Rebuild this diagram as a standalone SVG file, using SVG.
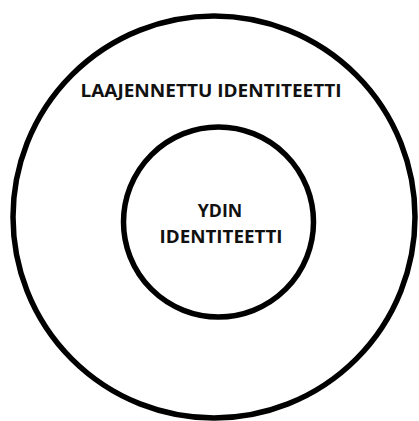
<svg xmlns="http://www.w3.org/2000/svg" width="419" height="421" viewBox="0 0 419 421">
<style>
.ring{fill:none;stroke:#000;stroke-width:5.5}
.lbl{font-family:"Open Sans","Liberation Sans",sans-serif;font-weight:bold;font-size:18.5px;fill:#111;text-anchor:middle}
</style>
<rect width="419" height="421" fill="#fff"/>
<g id="outer">
<circle class="ring" cx="214" cy="217" r="201"/>
<text class="lbl" x="211" y="97" textLength="261" lengthAdjust="spacingAndGlyphs">LAAJENNETTU IDENTITEETTI</text>
</g>
<g id="inner">
<circle class="ring" cx="218.5" cy="222" r="95"/>
<text class="lbl" x="220" y="216.5" textLength="44.5" lengthAdjust="spacingAndGlyphs">YDIN</text>
<text class="lbl" x="221" y="243.3" textLength="123" lengthAdjust="spacingAndGlyphs">IDENTITEETTI</text>
</g>
<g id="connectors"></g>
</svg>
